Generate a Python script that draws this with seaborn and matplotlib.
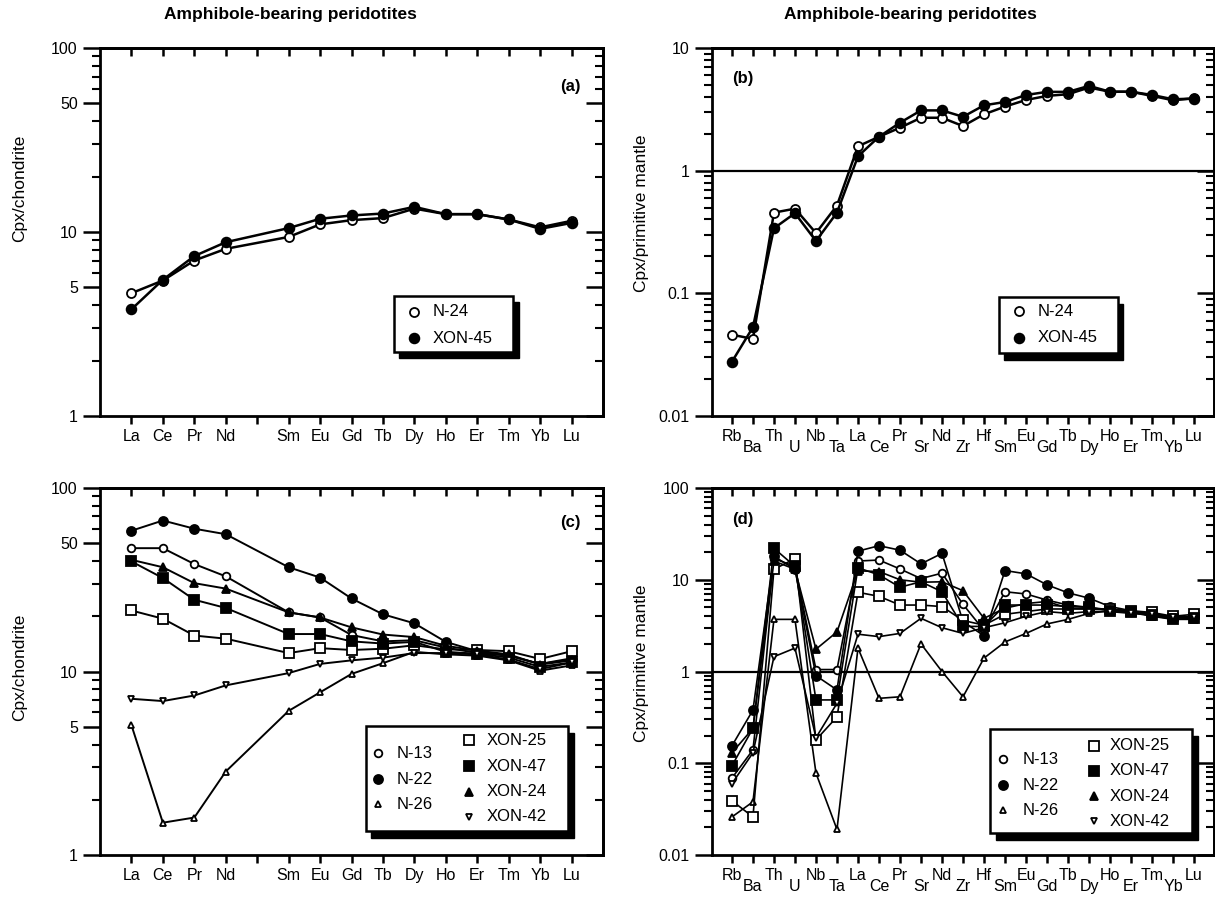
import numpy as np
import seaborn as sns
import matplotlib.pyplot as plt
from matplotlib.patches import Rectangle

# element order on the x axes ("" = Pm gap on the REE diagrams)
REE = ["La", "Ce", "Pr", "Nd", "", "Sm", "Eu", "Gd", "Tb", "Dy", "Ho", "Er", "Tm", "Yb", "Lu"]
SPIDER = ["Rb", "Ba", "Th", "U", "Nb", "Ta", "La", "Ce", "Pr", "Sr", "Nd", "Zr", "Hf",
          "Sm", "Eu", "Gd", "Tb", "Dy", "Ho", "Er", "Tm", "Yb", "Lu"]

# (a) chondrite normalised REE
ree_a = {
    "N-24":   [4.65, 5.45, 7.0, 8.1, 9.4, 11.0, 11.6, 11.9, 13.4, 12.5, 12.5, 11.7, 10.6, 11.5],
    "XON-45": [3.8, 5.5, 7.4, 8.8, 10.5, 11.8, 12.3, 12.6, 13.7, 12.5, 12.5, 11.7, 10.4, 11.2],
}
# (b) primitive mantle normalised
pm_b = {
    "N-24":   [0.046, 0.0425, 0.455, 0.49, 0.31, 0.52, 1.58, 1.89, 2.24, 2.7, 2.7, 2.31, 2.88,
               3.33, 3.77, 4.07, 4.2, 4.76, 4.4, 4.4, 4.07, 3.75, 3.89],
    "XON-45": [0.0277, 0.053, 0.339, 0.45, 0.267, 0.455, 1.31, 1.89, 2.46, 3.1, 3.1, 2.75, 3.41,
               3.63, 4.14, 4.39, 4.39, 4.91, 4.4, 4.4, 4.14, 3.82, 3.87],
}
# (c) chondrite normalised REE
ree_c = {
    "N-13":   [47, 47, 38.5, 33, 21, 19.7, 15.8, 14.6, 14.8, 13.5, 12.6, 12.2, 11.0, 11.8],
    "N-22":   [58.5, 66.5, 60, 56, 37, 32.5, 25, 20.5, 18.3, 14.5, 12.9, 12.2, 11.0, 11.6],
    "N-26":   [5.1, 1.5, 1.6, 2.85, 6.1, 7.7, 9.7, 11.1, 12.8, 12.4, 12.2, 11.5, 10.1, 10.8],
    "XON-25": [21.5, 19.4, 15.7, 15.1, 12.6, 13.4, 13.1, 13.3, 13.9, 13.2, 13.1, 12.9, 11.7, 12.9],
    "XON-47": [39.8, 32.3, 24.6, 22.2, 16, 16, 14.6, 14.2, 14.5, 12.8, 12.5, 11.9, 10.6, 11.2],
    "XON-24": [40.6, 37, 30.3, 28.3, 21, 19.7, 17.4, 15.9, 15.4, 13.8, 13.0, 12.4, 10.9, 11.5],
    "XON-42": [7.1, 6.9, 7.4, 8.4, 9.8, 11.0, 11.5, 11.9, 12.6, 12.6, 12.4, 11.6, 10.3, 11.2],
}
# (d) primitive mantle normalised
pm_d = {
    "N-13":   [0.069, 0.14, 17, 14, 1.05, 1.05, 16, 16.4, 13.1, 10.3, 11.8, 5.4, 2.8,
               7.4, 7.0, 6.0, 5.3, 5.0, 4.7, 4.5, 4.3, 3.9, 4.0],
    "N-22":   [0.155, 0.38, 18, 13, 0.9, 0.63, 20.5, 23.5, 21, 14.9, 19.4, 3.5, 2.45,
               12.6, 11.6, 8.8, 7.2, 6.3, 5.1, 4.6, 4.2, 3.9, 4.0],
    "N-26":   [0.026, 0.038, 3.7, 3.7, 0.078, 0.019, 1.8, 0.51, 0.53, 2.0, 1.0, 0.53, 1.4,
               2.1, 2.6, 3.3, 3.7, 4.3, 4.6, 4.4, 4.1, 3.8, 3.9],
    "XON-25": [0.039, 0.026, 13, 17, 0.18, 0.32, 7.3, 6.6, 5.3, 5.3, 5.1, 3.6, 3.2,
               4.2, 4.5, 4.8, 4.8, 4.8, 4.8, 4.6, 4.4, 4.0, 4.2],
    "XON-47": [0.094, 0.24, 22, 14, 0.49, 0.49, 13.5, 11.3, 8.3, 9.5, 7.4, 3.1, 3.1,
               5.3, 5.3, 5.3, 5.1, 5.0, 4.6, 4.4, 4.1, 3.7, 3.8],
    "XON-24": [0.13, 0.24, 16, 13, 1.75, 2.7, 12.5, 12.3, 10, 9.4, 9.5, 7.6, 3.8,
               4.9, 5.5, 5.8, 4.9, 4.8, 4.7, 4.4, 4.0, 3.7, 3.7],
    "XON-42": [0.06, 0.13, 1.45, 1.8, 0.19, 0.45, 2.55, 2.4, 2.6, 3.8, 3.0, 2.6, 3.0,
               3.4, 4.0, 4.5, 4.3, 4.5, 4.5, 4.3, 4.2, 3.9, 3.9],
}

# marker, face colour, size
STYLE = {
    "N-24": ("o", "white", 6.5), "XON-45": ("o", "black", 7),
    "N-13": ("o", "white", 5.5), "N-22": ("o", "black", 6.5), "N-26": ("^", "white", 5),
    "XON-25": ("s", "white", 7), "XON-47": ("s", "black", 6.5),
    "XON-24": ("^", "black", 5.5), "XON-42": ("v", "white", 5),
}

sns.set_theme(style="ticks", rc={
    "axes.edgecolor": "black", "axes.labelcolor": "black", "text.color": "black",
    "xtick.color": "black", "ytick.color": "black",
})
plt.rcParams['font.family'] = ['Liberation Sans', 'DejaVu Sans']
plt.rcParams['axes.linewidth'] = 2

TICKFONT = 11.5


def plot_series(ax, labels, data, lw):
    xpos = [i + 1 for i, e in enumerate(labels) if e]
    for name, vals in data.items():
        marker, face, ms = STYLE[name]
        sns.lineplot(x=xpos, y=vals, ax=ax, color="black", lw=lw, marker=marker, markersize=ms,
                     markerfacecolor=face, markeredgecolor="black", markeredgewidth=1.3,
                     sort=False, legend=False, errorbar=None)


def style_axes(ax, labels, ylim, ymajor, yminor, xlim, stagger=False):
    ax.set_yscale("log")
    ax.set_ylim(*ylim)
    ax.set_xlim(*xlim)
    pos = np.arange(1, len(labels) + 1)
    if stagger:
        ax.set_xticks(pos[::2])
        ax.set_xticklabels(labels[::2])
        ax.set_xticks(pos[1::2], minor=True)
        ax.set_xticklabels(labels[1::2], minor=True)
        ax.tick_params(axis="x", which="minor", length=6, width=1.8, pad=11, labelsize=TICKFONT)
    else:
        ax.set_xticks(pos)
        ax.set_xticklabels(labels)
        ax.set_xticks([], minor=True)
    ax.tick_params(axis="x", which="major", length=6, width=1.8, pad=3, labelsize=TICKFONT,
                   direction="out")
    ax.set_yticks(ymajor)
    ax.set_yticklabels([f"{v:g}" for v in ymajor])
    ax.set_yticks(yminor, minor=True)
    ax.set_yticklabels([], minor=True)
    ax.tick_params(axis="y", which="major", length=12, width=1.8, pad=4, labelsize=TICKFONT,
                   direction="out")
    ax.tick_params(axis="y", which="minor", length=6, width=1.5, direction="out")
    for sp in ax.spines.values():
        sp.set_linewidth(2)

    top = ax.secondary_xaxis("top")
    top.set_xticks(pos)
    top.tick_params(direction="in", length=6, width=1.8, labeltop=False)
    top.spines["top"].set_linewidth(2)
    right = ax.secondary_yaxis("right")
    right.set_yticks(ymajor)
    right.set_yticks(yminor, minor=True)
    right.tick_params(which="major", direction="in", length=12, width=1.8, labelright=False)
    right.tick_params(which="minor", direction="in", length=6, width=1.5, labelright=False)
    right.spines["right"].set_linewidth(2)
    ax.set_ylabel("")
    ax.set_xlabel("")


def draw_key(ax, box, entries):
    x0, y0, x1, y1 = box
    ax.add_patch(Rectangle((x0 + 0.011, y0 - 0.018), x1 - x0, y1 - y0, transform=ax.transAxes,
                           fc="black", ec="black", zorder=5))
    ax.add_patch(Rectangle((x0, y0), x1 - x0, y1 - y0, transform=ax.transAxes,
                           fc="white", ec="black", lw=1.8, zorder=6))
    for name, mx, tx, ty in entries:
        marker, face, ms = STYLE[name]
        ax.plot([mx], [ty], transform=ax.transAxes, marker=marker, ms=ms, mfc=face,
                mec="black", mew=1.3, ls="none", zorder=7)
        ax.text(tx, ty, name, transform=ax.transAxes, ha="left", va="center",
                fontsize=12, zorder=7)


fig = plt.figure(figsize=(12.15, 8.97), dpi=100)
ax_a = fig.add_axes([100 / 1215, 1 - 416 / 897, 503 / 1215, 368 / 897])
ax_b = fig.add_axes([712 / 1215, 1 - 416 / 897, 502 / 1215, 368 / 897])
ax_c = fig.add_axes([100 / 1215, 1 - 855 / 897, 503 / 1215, 367 / 897])
ax_d = fig.add_axes([712 / 1215, 1 - 855 / 897, 502 / 1215, 367 / 897])

ree_minor = [2, 3, 4, 6, 7, 8, 9, 20, 30, 40, 60, 70, 80, 90]
pm_minor = [m * 10.0 ** e for e in range(-2, 2) for m in range(2, 10)]

for ax in (ax_a, ax_c):
    ax.set_yscale("log")
for ax in (ax_b, ax_d):
    ax.set_yscale("log")
    ax.axhline(1, color="black", lw=1.6, zorder=1)

plot_series(ax_a, REE, ree_a, 1.8)
plot_series(ax_b, SPIDER, pm_b, 1.8)
plot_series(ax_c, REE, ree_c, 1.4)
plot_series(ax_d, SPIDER, pm_d, 1.2)

style_axes(ax_a, REE, (1, 100), [1, 5, 10, 50, 100], ree_minor, (0, 16))
style_axes(ax_c, REE, (1, 100), [1, 5, 10, 50, 100], ree_minor, (0, 16))
style_axes(ax_b, SPIDER, (0.01, 10), [0.01, 0.1, 1, 10], [v for v in pm_minor if v < 10],
           (0.05, 23.95), stagger=True)
style_axes(ax_d, SPIDER, (0.01, 100), [0.01, 0.1, 1, 10, 100], pm_minor, (0.05, 23.95),
           stagger=True)

# keys
draw_key(ax_a, (0.584, 0.175, 0.822, 0.327),
         [("N-24", 0.625, 0.662, 0.283), ("XON-45", 0.625, 0.662, 0.211)])
draw_key(ax_b, (0.571, 0.171, 0.808, 0.323),
         [("N-24", 0.612, 0.648, 0.285), ("XON-45", 0.612, 0.648, 0.212)])
draw_key(ax_c, (0.528, 0.065, 0.931, 0.351),
         [("N-13", 0.553, 0.59, 0.277), ("N-22", 0.553, 0.59, 0.206), ("N-26", 0.553, 0.59, 0.138),
          ("XON-25", 0.734, 0.769, 0.313), ("XON-47", 0.734, 0.769, 0.242),
          ("XON-24", 0.734, 0.769, 0.172), ("XON-42", 0.734, 0.769, 0.104)])
draw_key(ax_d, (0.554, 0.059, 0.957, 0.342),
         [("N-13", 0.579, 0.618, 0.261), ("N-22", 0.579, 0.618, 0.19), ("N-26", 0.579, 0.618, 0.122),
          ("XON-25", 0.76, 0.793, 0.298), ("XON-47", 0.76, 0.793, 0.229),
          ("XON-24", 0.76, 0.793, 0.16), ("XON-42", 0.76, 0.793, 0.092)])

# panel letters
ax_a.text(0.955, 0.895, "(a)", transform=ax_a.transAxes, ha="right", va="center",
          fontsize=12, fontweight="bold")
ax_b.text(0.04, 0.918, "(b)", transform=ax_b.transAxes, ha="left", va="center",
          fontsize=12, fontweight="bold")
ax_c.text(0.955, 0.905, "(c)", transform=ax_c.transAxes, ha="right", va="center",
          fontsize=12, fontweight="bold")
ax_d.text(0.04, 0.913, "(d)", transform=ax_d.transAxes, ha="left", va="center",
          fontsize=12, fontweight="bold")

# titles and axis labels
fig.text(290 / 1215, 1 - 15 / 897, "Amphibole-bearing peridotites", ha="center", va="center",
         fontsize=12.5, fontweight="bold")
fig.text(910 / 1215, 1 - 15 / 897, "Amphibole-bearing peridotites", ha="center", va="center",
         fontsize=12.5, fontweight="bold")
fig.text(20 / 1215, 1 - 188 / 897, "Cpx/chondrite", rotation=90, ha="center", va="center",
         fontsize=12.5)
fig.text(20 / 1215, 1 - 667 / 897, "Cpx/chondrite", rotation=90, ha="center", va="center",
         fontsize=12.5)
fig.text(642 / 1215, 1 - 213 / 897, "Cpx/primitive mantle", rotation=90, ha="center",
         va="center", fontsize=12.5)
fig.text(642 / 1215, 1 - 663 / 897, "Cpx/primitive mantle", rotation=90, ha="center",
         va="center", fontsize=12.5)

fig.savefig("out.png", dpi=100, facecolor="white")
